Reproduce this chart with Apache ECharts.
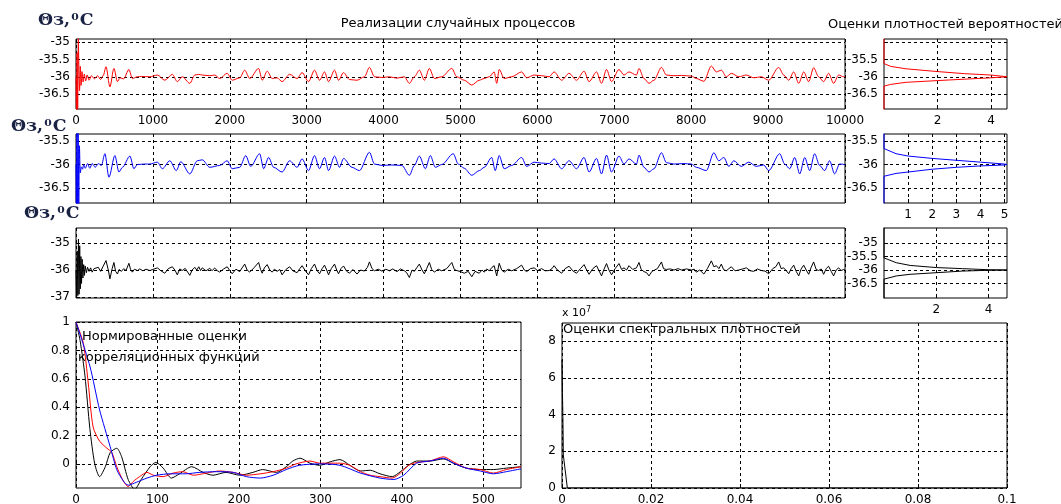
<!DOCTYPE html>
<html><head><meta charset="utf-8">
<script src="https://cdn.jsdelivr.net/npm/echarts@6/dist/echarts.min.js"></script>
<style>html,body{margin:0;padding:0;background:#fff}#c{width:1061px;height:504px}</style>
</head><body><div id="c"></div>
<script>
// ---------- DATA ----------
const tsTicks = [0,1000,2000,3000,4000,5000,6000,7000,8000,9000,10000];
const corrTicks = [0,100,200,300,400,500];
const corrYTicks = [0,0.2,0.4,0.6,0.8,1];
const specTicks = [0,0.02,0.04,0.06,0.08,0.1];
const specYTicks = [0,2e7,4e7,6e7,8e7];
const y1Ticks = [-35,-35.5,-36,-36.5];
const y2Ticks = [-35.5,-36,-36.5];
const y3Ticks = [-35,-36,-37];
const d1YLabels = [-35.5,-36,-36.5];
const d3YTicks = [-35,-35.5,-36,-36.5];
const d1XTicks = [2,4];
const d2XTicks = [1,2,3,4,5];
const d3XTicks = [2,4];

const redTs = [
[0,-36.0],[6,-36.95],[14,-35.3],[22,-36.95],[30,-34.9],[38,-34.9],[46,-36.4],[56,-35.7],[66,-36.25],[78,-35.85],[92,-36.15],[108,-35.92],[125,-36.12],[145,-35.95],[170,-36.1],[200,-35.97],[240,-36.06],[280,-35.97],[320,-36.08],[355,-35.96],
[390,-35.71],[441,-36.29],[493,-35.76],[539,-36.14],[571,-36.03],[620,-36.06],[688,-35.79],[733,-36.05],[798,-36.0],[850,-35.99],[960,-36.0],
[1058,-35.95],[1155,-36.10],[1253,-35.93],[1317,-36.14],[1382,-36.0],[1480,-36.19],[1545,-35.95],[1597,-35.93],[1642,-35.95],[1739,-35.97],[1804,-35.95],[1869,-36.05],[1966,-35.90],
[2031,-36.10],[2129,-36.03],[2194,-35.81],[2259,-36.05],[2375,-35.76],[2421,-36.10],[2486,-35.84],[2551,-36.05],[2615,-36.03],[2680,-36.14],[2778,-35.93],[2875,-36.05],[2940,-35.88],
[3024,-36.14],[3102,-35.81],[3167,-36.10],[3232,-35.86],[3284,-36.14],[3362,-35.81],[3414,-36.10],[3479,-35.88],[3557,-36.08],[3654,-36.10],[3751,-36.0],[3816,-35.73],[3881,-36.0],[3978,-36.02],
[4076,-36.0],[4173,-36.04],[4270,-36.0],[4335,-36.19],[4400,-36.0],[4465,-35.81],[4530,-36.10],[4595,-35.76],[4660,-36.05],[4757,-36.0],[4887,-35.76],[4952,-36.0],
[5049,-36.10],[5147,-36.24],[5244,-36.10],[5309,-36.05],[5374,-36.0],[5438,-35.86],[5471,-36.19],[5503,-35.79],[5568,-36.05],[5666,-36.0],[5795,-35.86],[5860,-36.03],[5958,-35.95],
[6055,-35.97],[6153,-36.0],[6217,-35.86],[6315,-36.10],[6412,-35.90],[6509,-36.10],[6607,-35.84],[6672,-36.14],[6769,-35.86],[6834,-36.19],[6899,-35.79],[6964,-36.14],
[7061,-35.79],[7126,-35.95],[7191,-35.86],[7288,-35.95],[7321,-35.76],[7386,-36.05],[7451,-36.19],[7516,-36.10],[7613,-35.73],[7678,-35.95],[7775,-35.97],[7873,-35.96],
[8002,-35.98],[8067,-36.05],[8165,-36.13],[8262,-35.69],[8327,-35.86],[8392,-35.81],[8457,-36.0],[8522,-35.90],[8619,-36.0],[8717,-35.95],[8814,-36.03],[8911,-36.0],
[9008,-36.10],[9138,-35.73],[9203,-35.95],[9268,-36.10],[9333,-35.86],[9398,-36.19],[9463,-35.86],[9528,-36.14],[9592,-35.74],[9657,-36.0],[9722,-36.14],[9787,-35.90],[9852,-36.19],[9917,-35.95],[9982,-36.0],[10000,-36.0]
];

const blueTs = [
[0,-36.0],[5,-36.85],[12,-35.2],[20,-36.85],[28,-35.3],[36,-36.85],[44,-35.6],[55,-36.18],[70,-36.05],[85,-36.1],[100,-36.0],[120,-36.08],[150,-35.98],[180,-36.08],[210,-35.98],[250,-36.06],[290,-35.98],[330,-36.02],
[376,-35.77],[428,-36.27],[506,-35.81],[558,-36.16],[604,-36.06],[701,-35.82],[753,-36.09],[798,-36.0],[896,-35.99],[960,-35.99],
[1058,-35.95],[1123,-36.09],[1220,-35.92],[1304,-36.13],[1363,-35.94],[1480,-36.2],[1577,-35.92],[1642,-35.9],[1739,-36.06],[1869,-36.02],[1966,-35.92],
[2031,-36.09],[2129,-36.06],[2207,-35.81],[2272,-36.04],[2388,-35.77],[2440,-36.09],[2505,-35.85],[2570,-36.06],[2680,-36.16],[2778,-35.92],[2875,-36.06],[2940,-35.88],
[3024,-36.13],[3102,-35.81],[3167,-36.09],[3232,-35.85],[3284,-36.13],[3362,-35.82],[3427,-36.06],[3479,-35.87],[3589,-36.06],[3686,-36.13],[3816,-35.74],[3881,-35.99],[3978,-36.02],
[4108,-36.01],[4238,-36.02],[4335,-36.23],[4400,-36.02],[4465,-35.82],[4543,-36.09],[4608,-35.81],[4673,-36.06],[4757,-36.0],[4906,-35.77],[4971,-35.99],
[5049,-36.08],[5147,-36.23],[5244,-36.13],[5309,-36.06],[5406,-35.85],[5452,-36.13],[5503,-35.81],[5568,-36.09],[5666,-36.02],[5795,-35.85],[5860,-36.04],[5958,-35.95],
[6055,-35.97],[6153,-35.98],[6217,-35.88],[6315,-36.09],[6412,-35.92],[6509,-36.09],[6607,-35.85],[6672,-36.16],[6769,-35.87],[6834,-36.2],[6899,-35.8],[6964,-36.16],
[7061,-35.82],[7126,-35.99],[7191,-35.88],[7288,-35.99],[7321,-35.8],[7386,-36.06],[7451,-36.16],[7516,-36.09],[7613,-35.75],[7678,-35.96],[7775,-35.99],[7905,-35.98],
[8002,-35.99],[8067,-36.06],[8197,-36.13],[8294,-35.75],[8359,-35.92],[8424,-35.85],[8489,-36.04],[8554,-35.92],[8651,-36.04],[8749,-35.95],[8846,-36.04],[8943,-36.01],
[9008,-36.13],[9151,-35.77],[9216,-35.99],[9281,-36.09],[9346,-35.85],[9411,-36.2],[9476,-35.85],[9541,-36.13],[9605,-35.77],[9670,-36.02],[9735,-36.13],[9800,-35.92],[9865,-36.2],[9930,-35.99],[9995,-36.0]
];

const blackTs = [
[0,-36],[8,-37.0],[16,-35.3],[24,-36.95],[32,-34.85],[40,-36.9],[48,-35.1],[56,-36.7],[64,-35.5],[72,-36.5],[80,-35.6],[90,-36.3],[100,-35.8],[110,-36.2],[120,-35.85],[135,-36.1],[150,-35.9],[170,-36.05],[190,-35.92],[210,-36.08],[235,-35.95],[260,-36.02],[290,-35.9],[320,-36.05],[350,-35.88],
[390,-35.65],[420,-36.0],[441,-36.33],[470,-35.95],[493,-35.72],[515,-36.05],[539,-36.15],[560,-35.98],[590,-36.05],[620,-35.95],[650,-36.02],[688,-35.75],[710,-35.98],[733,-36.08],[760,-35.97],[798,-36.02],[830,-35.96],[870,-36.03],[910,-35.97],[960,-36.02],
[1000,-35.98],[1058,-35.92],[1100,-36.02],[1155,-36.12],[1200,-35.95],[1253,-35.88],[1290,-36.02],[1317,-36.18],[1350,-35.96],[1382,-36.02],[1420,-35.94],[1480,-36.2],[1510,-36.0],[1545,-35.9],[1570,-36.0],[1597,-35.88],[1620,-36.02],[1642,-35.92],[1690,-36.03],[1739,-35.94],[1770,-36.02],[1804,-35.93],[1840,-36.03],[1869,-36.08],[1920,-35.96],[1966,-35.88],
[2000,-36.02],[2031,-36.14],[2080,-35.97],[2129,-36.06],[2160,-35.92],[2194,-35.78],[2225,-36.0],[2259,-36.08],[2320,-35.9],[2375,-35.72],[2400,-35.98],[2421,-36.12],[2450,-35.92],[2486,-35.8],[2520,-36.0],[2551,-36.08],[2580,-35.97],[2615,-36.05],[2650,-35.98],[2680,-36.18],[2730,-35.98],[2778,-35.88],[2820,-36.03],[2875,-36.1],[2910,-35.95],[2940,-35.84],[2980,-36.02],
[3024,-36.18],[3060,-35.95],[3102,-35.78],[3135,-36.02],[3167,-36.14],[3200,-35.95],[3232,-35.82],[3260,-36.0],[3284,-36.18],[3320,-35.95],[3362,-35.78],[3390,-36.0],[3414,-36.14],[3445,-35.95],[3479,-35.85],[3520,-36.05],[3557,-36.12],[3600,-35.98],[3654,-36.15],[3700,-36.0],[3751,-36.04],[3790,-35.9],[3816,-35.7],[3850,-35.95],[3881,-36.03],[3930,-35.97],[3978,-36.04],
[4030,-35.97],[4076,-36.03],[4120,-35.96],[4173,-36.06],[4220,-35.96],[4270,-36.03],[4300,-36.1],[4335,-36.28],[4370,-36.0],[4400,-36.05],[4430,-35.92],[4465,-35.78],[4500,-36.0],[4530,-36.14],[4560,-35.95],[4595,-35.72],[4625,-35.98],[4660,-36.08],[4710,-35.97],[4757,-36.03],[4820,-35.95],[4887,-35.72],[4920,-35.98],[4952,-36.02],
[5000,-36.06],[5049,-36.12],[5100,-36.05],[5147,-36.25],[5190,-36.05],[5244,-36.12],[5280,-36.0],[5309,-36.08],[5340,-35.96],[5374,-36.03],[5410,-35.9],[5438,-35.84],[5471,-36.22],[5503,-35.75],[5535,-36.0],[5568,-36.08],[5620,-35.97],[5666,-36.03],[5730,-35.95],[5795,-35.82],[5830,-36.0],[5860,-36.06],[5910,-35.95],[5958,-35.92],
[6000,-36.02],[6055,-35.95],[6100,-36.03],[6153,-36.02],[6190,-35.95],[6217,-35.84],[6260,-36.0],[6315,-36.12],[6360,-35.95],[6412,-35.86],[6460,-36.03],[6509,-36.12],[6560,-35.95],[6607,-35.8],[6640,-36.0],[6672,-36.16],[6720,-35.95],[6769,-35.84],[6800,-36.02],[6834,-36.22],[6865,-35.98],[6899,-35.76],[6930,-36.0],[6964,-36.18],
[7010,-35.95],[7061,-35.76],[7095,-35.98],[7126,-35.92],[7160,-36.0],[7191,-35.84],[7240,-35.98],[7288,-35.92],[7321,-35.72],[7350,-35.98],[7386,-36.06],[7420,-36.1],[7451,-36.22],[7490,-36.05],[7516,-36.12],[7560,-35.95],[7613,-35.7],[7640,-35.95],[7678,-35.98],[7730,-35.96],[7775,-36.0],[7830,-35.95],[7873,-36.0],[7940,-35.96],
[8002,-36.0],[8040,-35.97],[8067,-36.08],[8110,-36.0],[8165,-36.15],[8210,-35.95],[8262,-35.66],[8295,-35.88],[8327,-35.84],[8360,-35.95],[8392,-35.78],[8420,-35.98],[8457,-36.03],[8490,-35.95],[8522,-35.88],[8570,-36.03],[8619,-36.0],[8670,-35.96],[8717,-35.92],[8770,-36.03],[8814,-36.05],[8860,-35.96],[8911,-36.02],[8960,-36.04],
[9008,-36.14],[9060,-35.95],[9100,-35.88],[9138,-35.7],[9170,-35.95],[9203,-35.92],[9235,-36.02],[9268,-36.14],[9300,-35.95],[9333,-35.82],[9365,-36.05],[9398,-36.22],[9430,-35.96],[9463,-35.82],[9495,-36.0],[9528,-36.16],[9560,-35.9],[9592,-35.7],[9625,-35.98],[9657,-36.02],[9690,-35.96],[9722,-36.16],[9755,-35.95],[9787,-35.86],[9820,-36.05],[9852,-36.22],[9885,-36.0],[9917,-35.92],[9950,-36.02],[9982,-35.98],[10000,-36.0]
];

// probability density estimates: [density, value]
const redDens = [[0,-34.9],[0,-35.62],[0.25,-35.7],[0.82,-35.77],[2,-35.85],[3,-35.91],[4,-35.95],[4.6,-36.0],[4,-36.03],[3,-36.07],[2,-36.11],[0.82,-36.16],[0.25,-36.22],[0,-36.27],[0,-37]];
const blueDens = [[0,-35.3],[0,-35.66],[0.5,-35.77],[1,-35.82],[2,-35.87],[3,-35.91],[4,-35.95],[5,-35.99],[5.1,-36.0],[5,-36.01],[4,-36.03],[3,-36.06],[2,-36.1],[1,-36.16],[0.5,-36.19],[0,-36.25],[0,-36.9]];
const blackDens = [[0,-34.4],[0,-35.55],[0.47,-35.73],[1,-35.83],[2,-35.91],[3,-35.95],[4,-35.99],[4.7,-36.0],[4,-36.01],[3,-36.04],[2,-36.1],[1,-36.16],[0.47,-36.22],[0,-36.34],[0,-37.1]];

// normalized correlation function estimates: [lag, value]
const corrBlack = [[0,1],[5,0.87],[11,0.62],[17,0.25],[23,0],[29,-0.09],[36,-0.02],[42,0.08],[50,0.11],[56,0.05],[64,-0.11],[72,-0.18],[80,-0.11],[91,-0.02],[98,0.01],[107,-0.03],[117,-0.10],[127,-0.07],[142,-0.02],[156,-0.06],[168,-0.08],[184,-0.06],[201,-0.08],[217,-0.06],[229,-0.04],[246,-0.06],[258,-0.02],[266,0.02],[275,0.04],[287,0.005],[299,-0.01],[312,0.015],[324,0.03],[336,-0.01],[349,-0.05],[361,-0.045],[373,-0.07],[388,-0.09],[398,-0.055],[408,-0.01],[418,0.02],[434,0.02],[451,0.035],[463,0.005],[479,-0.03],[496,-0.04],[512,-0.04],[528,-0.03],[546,-0.02]];
const corrRed = [[0,1],[9,0.85],[15,0.57],[21,0.26],[29,0.16],[38,0.11],[44,0.08],[50,-0.02],[58,-0.12],[64,-0.16],[70,-0.125],[78,-0.09],[87,-0.06],[95,-0.08],[107,-0.09],[119,-0.065],[131,-0.055],[144,-0.08],[160,-0.065],[176,-0.05],[193,-0.06],[209,-0.08],[226,-0.07],[242,-0.055],[258,-0.03],[270,0],[287,0.02],[299,0.005],[324,0.005],[336,-0.01],[349,-0.055],[361,-0.08],[373,-0.09],[388,-0.10],[398,-0.065],[408,-0.01],[418,0.01],[434,0.02],[451,0.05],[463,0.015],[479,-0.03],[496,-0.04],[512,-0.065],[528,-0.04],[546,-0.02]];
const corrBlue = [[0,1],[17,0.69],[29,0.38],[42,0.12],[50,-0.04],[58,-0.12],[64,-0.15],[74,-0.13],[87,-0.10],[99,-0.08],[116,-0.07],[135,-0.07],[151,-0.06],[172,-0.055],[193,-0.06],[209,-0.09],[226,-0.10],[242,-0.08],[258,-0.04],[274,-0.01],[299,0],[324,-0.01],[349,-0.065],[373,-0.10],[390,-0.11],[402,-0.08],[418,0.005],[434,0.02],[451,0.04],[463,0.005],[479,-0.03],[496,-0.05],[512,-0.07],[528,-0.055],[546,-0.035]];

// spectral density estimate: [frequency, value]
const spectrum = [[0,7e7],[0.0001,5.2e7],[0.0002,3.9e7],[0.0003,1.8e7],[0.0012,0],[0.1,0]];

// ---------- CHART ----------
const FONT = 'DejaVu Sans';
const grids = [
  {left:76, top:39, width:769, height:70},
  {left:76, top:134, width:769, height:69},
  {left:76, top:228, width:769, height:70},
  {left:884, top:39, width:123, height:70},
  {left:884, top:134, width:123, height:69},
  {left:884, top:228, width:123, height:70},
  {left:76, top:322, width:445, height:166},
  {left:562, top:323, width:445, height:165}
].map(g => Object.assign({show:true, borderColor:'#000', borderWidth:1, backgroundColor:'#fff', outerBoundsMode:'none'}, g));

function axis(gi, min, max, ticks, labels, showLabels, formatter) {
  return {
    type:'value', gridIndex:gi, min:min, max:max,
    axisLine:{show:false},
    axisTick:{show:true, inside:true, length:4, lineStyle:{color:'#000'}, customValues:ticks},
    axisLabel:{show:showLabels, customValues:labels || ticks, color:'#000', fontFamily:FONT, fontSize:12, margin:6,
      formatter: formatter || (v => String(v))},
    splitLine:{show:true, lineStyle:{color:'#000', type:[3,3], width:1}}
  };
}

const xAxis = [
  axis(0, 0, 10000, tsTicks, null, true),
  axis(1, 0, 10000, tsTicks, null, false),
  axis(2, 0, 10000, tsTicks, null, false),
  axis(3, 0, 4.6, d1XTicks, null, true),
  axis(4, 0, 5.1, d2XTicks, null, true),
  axis(5, 0, 4.7, d3XTicks, null, true),
  axis(6, 0, 546, corrTicks, null, true),
  axis(7, 0, 0.1, specTicks, null, true)
];
const yAxis = [
  axis(0, -36.93, -34.91, y1Ticks, null, true),
  axis(1, -36.82, -35.35, y2Ticks, null, true),
  axis(2, -37.04, -34.44, y3Ticks, null, true),
  axis(3, -36.93, -34.91, y1Ticks, d1YLabels, true),
  axis(4, -36.82, -35.35, y2Ticks, null, true),
  axis(5, -37.04, -34.44, d3YTicks, null, true),
  axis(6, -0.17, 1, corrYTicks, null, true),
  axis(7, 0, 9e7, specYTicks, null, true, v => String(Math.round(v/1e7)))
];

function line(i, data, color, smooth, mono) {
  const s = {type:'line', xAxisIndex:i, yAxisIndex:i, data:data, showSymbol:false, symbol:'none',
    smooth: smooth || false, lineStyle:{color:color, width:1}, clip:true, silent:true, animation:false};
  if (mono) s.smoothMonotone = 'x';
  return s;
}

const series = [
  line(0, redTs, '#ff0000', 0.3, true),
  line(1, blueTs, '#0000ff', 0.3, true),
  line(2, blackTs, '#000000'),
  line(3, redDens, '#ff0000'),
  line(4, blueDens, '#0000ff'),
  line(5, blackDens, '#000000'),
  line(6, corrBlack, '#000000', 0.25),
  line(6, corrRed, '#ff0000', 0.25),
  line(6, corrBlue, '#0000ff', 0.25),
  line(7, spectrum, '#000000')
];

const TH_FONT = 'DejaVu Serif';
function theta(x, y) {
  return {type:'text', x:x, y:y, scaleX:1.08, originX:0, originY:0, z:10,
    style:{text:'Θз,{s|0}C', fontFamily:TH_FONT, fontSize:16, fontWeight:'bold', fill:'#1a2244', textVerticalAlign:'top',
      rich:{s:{fontFamily:TH_FONT, fontSize:10, fontWeight:'bold', fill:'#1a2244', verticalAlign:'top', padding:[0,1,7,1]}}}};
}
function txt(x, y, s, size, align) {
  return {type:'text', x:x, y:y, z:10, style:{text:s, fontFamily:FONT, fontSize:size||13, fill:'#000', textAlign:align||'left', textVerticalAlign:'middle'}};
}

const graphic = [
  theta(38, 12),
  theta(11, 118),
  theta(24, 205),
  txt(458, 24, 'Реализации случайных процессов', 13, 'center'),
  txt(828, 25, 'Оценки плотностей вероятностей', 13, 'left'),
  txt(82, 337, 'Нормированные оценки', 13, 'left'),
  txt(78, 358, 'корреляционных функций', 13, 'left'),
  txt(563, 330, 'Оценки спектральных плотностей', 13, 'left'),
  {type:'text', x:562, y:313, z:10, style:{text:'x 10{s|7}', fontFamily:FONT, fontSize:11, fill:'#000', textVerticalAlign:'middle',
    rich:{s:{fontFamily:FONT, fontSize:8, fill:'#000', verticalAlign:'top', padding:[0,0,7,0]}}}}
];

const chart = echarts.init(document.getElementById('c'), null, {renderer:'canvas'});
chart.setOption({animation:false, backgroundColor:'#fff', grid:grids, xAxis:xAxis, yAxis:yAxis, series:series, graphic:graphic});
</script>
</body></html>
